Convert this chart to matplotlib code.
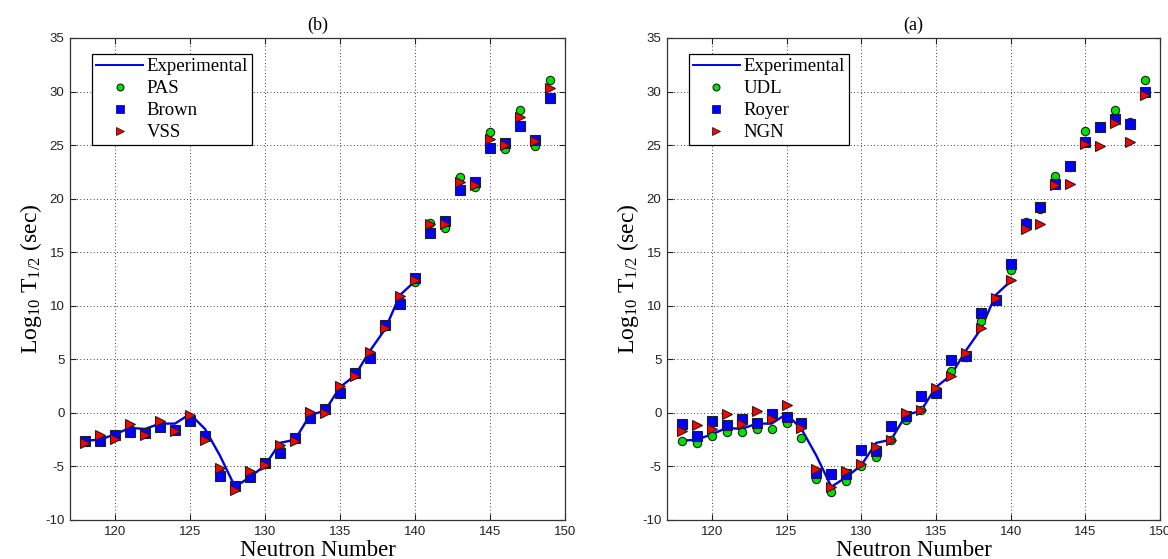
import matplotlib
matplotlib.use("Agg")
import matplotlib.pyplot as plt
from matplotlib.lines import Line2D

# ---------------- data ----------------
N_low = list(range(118, 141))
N_high = list(range(141, 150))

exp_vals = [-2.6, -2.5, -2.0, -1.4, -1.5, -1.0, -1.0, -0.1, -1.5, -4.0, -6.9, -6.0,
            -4.9, -2.8, -2.5, -0.2, 0.2, 2.4, 3.5, 5.8, 7.8, 11.0, 12.3]

# panel (b)
pas_low = [-2.6, -2.6, -2.1, -1.5, -1.9, -1.3, -1.6, -0.6, -2.2, -5.6, -6.9, -5.9,
           -4.8, -3.4, -2.4, -0.3, 0.3, 2.0, 3.6, 5.3, 8.1, 10.4, 12.2]
pas_high = [17.7, 17.3, 22.0, 21.1, 26.2, 24.6, 28.3, 24.9, 31.1]
brown_low = [-2.6, -2.65, -2.1, -1.74, -1.9, -1.36, -1.58, -0.8, -2.2, -5.85, -6.85, -6.0,
             -4.7, -3.7, -2.35, -0.45, 0.34, 1.83, 3.69, 5.1, 8.2, 10.2, 12.6]
brown_high = [16.8, 17.9, 20.8, 21.6, 24.7, 25.2, 26.8, 25.5, 29.4]
vss_low = [-2.8, -2.1, -2.45, -1.03, -2.1, -0.8, -1.7, -0.18, -2.5, -5.1, -7.2, -5.4,
           -4.9, -2.98, -2.65, 0.12, 0.03, 2.5, 3.45, 5.7, 7.9, 10.9, 12.4]
vss_high = [17.65, 17.65, 21.6, 21.3, 25.6, 25.0, 27.6, 25.4, 30.3]

# panel (a)
udl_low = [-2.6, -2.8, -2.16, -1.8, -1.8, -1.5, -1.5, -0.93, -2.3, -6.2, -7.35, -6.4,
           -5.0, -4.1, -2.55, -0.68, 0.25, 2.0, 3.87, 5.26, 8.58, 10.6, 13.3]
udl_high = [17.8, 19.0, 22.07, 23.0, 26.3, 26.7, 28.3, 27.2, 31.1]
royer_low = [-1.08, -2.2, -0.77, -1.17, -0.56, -0.93, -0.06, -0.4, -0.93, -5.65, -5.7, -5.7,
             -3.5, -3.55, -1.2, -0.3, 1.55, 1.86, 4.9, 5.3, 9.35, 10.5, 13.9]
royer_high = [17.6, 19.2, 21.4, 23.05, 25.3, 26.7, 27.4, 27.0, 30.0]
ngn_low = [-1.7, -1.17, -1.5, -0.15, -1.0, 0.15, -0.56, 0.7, -1.4, -5.2, -6.9, -5.4,
           -4.8, -3.2, -2.5, 0.0, 0.25, 2.3, 3.47, 5.57, 7.9, 10.7, 12.4]
ngn_high = [17.2, 17.6, 21.3, 21.35, 25.15, 24.9, 27.1, 25.3, 29.7]

xticks = [120, 125, 130, 135, 140, 145, 150]
yticks = [-10, -5, 0, 5, 10, 15, 20, 25, 30, 35]

# ---------------- style ----------------
plt.rcParams['mathtext.fontset'] = 'custom'
plt.rcParams['mathtext.rm'] = 'Liberation Serif'
plt.rcParams['mathtext.it'] = 'Liberation Serif:italic'
plt.rcParams['axes.unicode_minus'] = False

SERIF = 'Liberation Serif'
SANS = 'Liberation Sans'

fig = plt.figure(figsize=(11.68, 5.59), dpi=100)
axL = fig.add_axes([70 / 1168, 39 / 559, 495 / 1168, 482 / 559])
axR = fig.add_axes([667 / 1168, 39 / 559, 493 / 1168, 482 / 559])

GREEN = '#00e000'
BLUE = '#0000ff'
RED = '#ff0000'
EDGE = '#202020'


def panel(ax, title, names, s1, s2, s3):
    N_all = N_low + N_high
    ax.plot(N_low, exp_vals, color='#0000e6', lw=1.7, zorder=3)
    ax.plot(N_all, s1[0] + s1[1], ls='none', marker='o', ms=6, mfc=GREEN, mec=EDGE, mew=0.8, zorder=4)
    ax.plot(N_all, s2[0] + s2[1], ls='none', marker='s', ms=6.8, mfc=BLUE, mec=EDGE, mew=0.8, zorder=5)
    ax.plot(N_all, s3[0] + s3[1], ls='none', marker='>', ms=7.2, mfc=RED, mec=EDGE, mew=0.8, zorder=6)

    ax.set_xlim(117, 150)
    ax.set_ylim(-10, 35)
    ax.set_xticks(xticks)
    ax.set_yticks(yticks)
    ax.grid(True, color='black', ls=(0, (1, 3)), lw=0.6)
    ax.set_axisbelow(True)
    ax.tick_params(direction='in', top=True, right=True, length=4, width=0.8,
                   labelsize=9.5, colors='#222222', pad=4)
    for lab in ax.get_xticklabels() + ax.get_yticklabels():
        lab.set_fontfamily(SANS)
    for sp in ax.spines.values():
        sp.set_color('#333333')
        sp.set_linewidth(0.9)

    ax.set_title(title, fontfamily=SERIF, fontsize=13, pad=6)
    ax.set_xlabel('Neutron Number', fontfamily=SERIF, fontsize=16.5, labelpad=1.5)
    ax.set_ylabel(r'Log$_{10}$ T$_{1/2}$ (sec)', fontfamily=SERIF, fontsize=17, labelpad=1)

    handles = [
        Line2D([], [], color='#0000e6', lw=1.4),
        Line2D([], [], ls='none', marker='o', ms=5, mfc=GREEN, mec=EDGE, mew=0.8),
        Line2D([], [], ls='none', marker='s', ms=5.5, mfc=BLUE, mec=EDGE, mew=0.6),
        Line2D([], [], ls='none', marker='>', ms=6, mfc=RED, mec=EDGE, mew=0.6),
    ]
    leg = ax.legend(handles, ['Experimental'] + names, loc='upper left',
                    bbox_to_anchor=(22 / 495, 1 - 16 / 482), borderaxespad=0,
                    fancybox=False, framealpha=1, edgecolor='black',
                    prop={'family': SERIF, 'size': 13.5}, handlelength=2.5,
                    handletextpad=0.2, labelspacing=0.26, borderpad=0.22)
    leg.get_frame().set_linewidth(0.9)


panel(axL, '(b)', ['PAS', 'Brown', 'VSS'],
      (pas_low, pas_high), (brown_low, brown_high), (vss_low, vss_high))
panel(axR, '(a)', ['UDL', 'Royer', 'NGN'],
      (udl_low, udl_high), (royer_low, royer_high), (ngn_low, ngn_high))

fig.savefig('out.png', dpi=100)
